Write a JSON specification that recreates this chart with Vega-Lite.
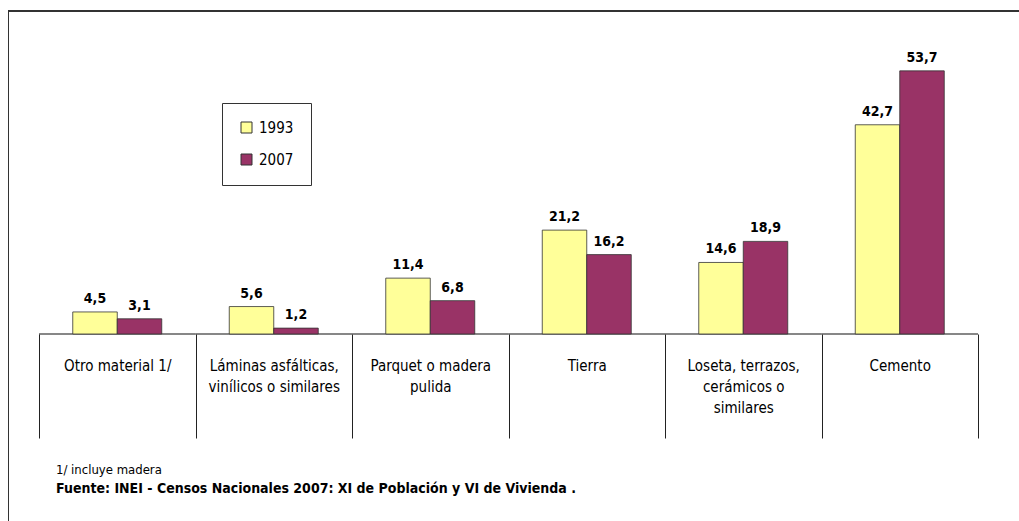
{
  "$schema": "https://vega.github.io/schema/vega-lite/v6.json",
  "autosize": "none",
  "padding": {"left": 8, "top": 11, "right": 0, "bottom": 0},
  "width": 1011,
  "height": 510,
  "background": "white",
  "title": {
    "text": "1/ incluye madera",
    "subtitle": "Fuente: INEI -  Censos Nacionales 2007: XI de Población y VI de Vivienda .",
    "orient": "bottom",
    "anchor": "start",
    "frame": "group",
    "offset": -57,
    "dx": 48,
    "font": "Liberation Sans Narrow, DejaVu Sans Condensed, sans-serif",
    "fontSize": 13,
    "fontWeight": "normal",
    "color": "#000",
    "subtitleFont": "Liberation Sans Narrow, DejaVu Sans Condensed, sans-serif",
    "subtitleFontSize": 14,
    "subtitleFontWeight": "bold",
    "subtitleColor": "#000",
    "subtitlePadding": 5
  },
  "data": {
    "values": [
      {"categoria": "Otro material 1/", "anio": "1993", "valor": 4.5},
      {"categoria": "Otro material 1/", "anio": "2007", "valor": 3.1},
      {"categoria": "Láminas asfálticas,\nvinílicos o similares", "anio": "1993", "valor": 5.6},
      {"categoria": "Láminas asfálticas,\nvinílicos o similares", "anio": "2007", "valor": 1.2},
      {"categoria": "Parquet o madera\npulida", "anio": "1993", "valor": 11.4},
      {"categoria": "Parquet o madera\npulida", "anio": "2007", "valor": 6.8},
      {"categoria": "Tierra", "anio": "1993", "valor": 21.2},
      {"categoria": "Tierra", "anio": "2007", "valor": 16.2},
      {"categoria": "Loseta, terrazos,\ncerámicos o\nsimilares", "anio": "1993", "valor": 14.6},
      {"categoria": "Loseta, terrazos,\ncerámicos o\nsimilares", "anio": "2007", "valor": 18.9},
      {"categoria": "Cemento", "anio": "1993", "valor": 42.7},
      {"categoria": "Cemento", "anio": "2007", "valor": 53.7}
    ]
  },
  "encoding": {
    "x": {
      "field": "categoria",
      "type": "nominal",
      "sort": null,
      "scale": {"paddingInner": 0, "paddingOuter": 0.23003, "align": 0.4306},
      "axis": {
        "orient": "bottom",
        "offset": -187,
        "title": null,
        "domain": false,
        "grid": false,
        "tickBand": "extent",
        "tickSize": 104,
        "tickColor": "#222",
        "tickWidth": 1,
        "labelPadding": -80,
        "labelAngle": 0,
        "labelFont": "Liberation Sans Narrow, DejaVu Sans Condensed, sans-serif",
        "labelFontSize": 15,
        "labelColor": "#000",
        "labelLineHeight": 21,
        "labelLimit": 0,
        "labelOverlap": false,
        "labelExpr": "split(datum.label, '\\n')"
      }
    }
  },
  "layer": [
    {
      "mark": {"type": "rule", "color": "#333", "strokeWidth": 1},
      "encoding": {"y": {"datum": 65.918, "type": "quantitative"}, "x": null}
    },
    {
      "mark": {"type": "rect", "fill": null, "stroke": "#808080", "strokeWidth": 1.5},
      "encoding": {
        "y": {"datum": 0, "type": "quantitative"},
        "y2": {"datum": 0}
      }
    },
    {
      "mark": {"type": "bar", "stroke": "#333", "strokeWidth": 0.8},
      "encoding": {
        "xOffset": {
          "field": "anio",
          "type": "nominal",
          "scale": {"paddingInner": 0, "paddingOuter": 0.7584}
        },
        "y": {
          "field": "valor",
          "type": "quantitative",
          "scale": {"domain": [-38.163, 65.918], "nice": false, "zero": false},
          "axis": {
            "orient": "left",
            "title": null,
            "labels": false,
            "ticks": false,
            "grid": false,
            "domain": true,
            "domainColor": "#333",
            "domainWidth": 1
          }
        },
        "color": {
          "field": "anio",
          "type": "nominal",
          "scale": {"domain": ["1993", "2007"], "range": ["#FFFF99", "#993366"]},
          "legend": {
            "title": null,
            "orient": "none",
            "legendX": 214,
            "legendY": 92,
            "direction": "vertical",
            "padding": 17,
            "strokeColor": "#333",
            "fillColor": "white",
            "symbolType": "square",
            "symbolSize": 121,
            "symbolStrokeColor": "#333",
            "symbolStrokeWidth": 1,
            "symbolOpacity": 1,
            "labelFont": "Liberation Sans Narrow, DejaVu Sans Condensed, sans-serif",
            "labelFontSize": 15,
            "labelColor": "#000",
            "labelOffset": 5,
            "rowPadding": 16
          }
        }
      }
    },
    {
      "mark": {
        "type": "text",
        "baseline": "alphabetic",
        "dy": -9,
        "font": "Liberation Sans Narrow, DejaVu Sans Condensed, sans-serif",
        "fontSize": 14,
        "fontWeight": "bold",
        "color": "#000"
      },
      "encoding": {
        "xOffset": {"field": "anio", "type": "nominal"},
        "y": {"field": "valor", "type": "quantitative"},
        "text": {"field": "valor", "type": "quantitative", "format": ".1f"}
      }
    }
  ],
  "config": {
    "view": {"stroke": null},
    "locale": {"number": {"decimal": ",", "thousands": ".", "grouping": [3], "currency": ["", ""]}}
  }
}
